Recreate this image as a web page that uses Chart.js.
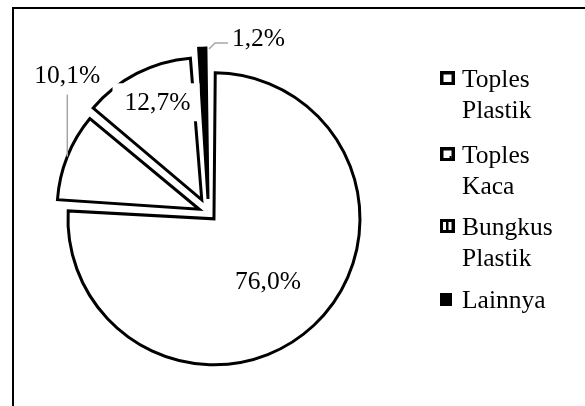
<!DOCTYPE html>
<html>
<head>
<meta charset="utf-8">
<script src="https://cdn.jsdelivr.net/npm/chart.js@4"></script>
<style>
  html, body { margin: 0; padding: 0; background: #fff; }
  #wrap { position: relative; width: 585px; height: 406px; overflow: hidden; }
  canvas { display: block; }
</style>
</head>
<body>
<div id="wrap"><canvas id="c" width="585" height="406"></canvas></div>
<script>
// ---- data ----
const categories = ['Toples Plastik', 'Toples Kaca', 'Bungkus Plastik', 'Lainnya'];
const shares = [76.0, 10.1, 12.7, 1.2];
const legendLines = [['Toples', 'Plastik'], ['Toples', 'Kaca'], ['Bungkus', 'Plastik'], ['Lainnya']];
const valueLabels = shares.map(v => v.toFixed(1).replace('.', ',') + '%');

// ---- style ----
const FONT = '25.5px "Liberation Serif", "Times New Roman", serif';
const fills = ['#ffffff', '#ffffff', '#ffffff', '#000000'];
const explode = [32, 40, 59, 56];

function arcGeom(arc) {
  const p = arc.getProps(['x', 'y', 'startAngle', 'endAngle', 'outerRadius', 'circumference'], true);
  const t = (arc.options.offset || 0) / 4;
  const h = (p.startAngle + p.endAngle) / 2;
  const fix = 1 - Math.sin(Math.min(Math.PI, p.circumference || 0));
  return {
    cx: p.x + Math.cos(h) * t,
    cy: p.y + Math.sin(h) * t,
    r: p.outerRadius + t * fix,
    h: h, start: p.startAngle, end: p.endAngle
  };
}

const framePlugin = {
  id: 'frame',
  beforeDraw(chart) {
    const ctx = chart.ctx;
    ctx.save();
    ctx.fillStyle = '#fff';
    ctx.fillRect(0, 0, chart.width, chart.height);
    ctx.fillStyle = '#000';
    ctx.fillRect(12, 7, chart.width - 12, 2);
    ctx.fillRect(12, 7, 2, chart.height - 7);
    ctx.restore();
  }
};

const labelPlugin = {
  id: 'pieLabels',
  afterDatasetsDraw(chart) {
    const ctx = chart.ctx;
    const arcs = chart.getDatasetMeta(0).data;
    ctx.save();
    ctx.font = FONT;
    ctx.textBaseline = 'alphabetic';
    ctx.fillStyle = '#000';

    // 76,0% inside the large slice
    let g = arcGeom(arcs[0]);
    let x = g.cx + 0.56 * g.r * Math.cos(g.h);
    let y = g.cy + 0.56 * g.r * Math.sin(g.h);
    ctx.textAlign = 'center';
    ctx.fillText(valueLabels[0], x - 2, y + 11);

    // 12,7% inside slice, with white label box
    g = arcGeom(arcs[2]);
    const a2 = g.h + 3 * Math.PI / 180;
    x = g.cx + 0.76 * g.r * Math.cos(a2);
    y = g.cy + 0.76 * g.r * Math.sin(a2);
    ctx.fillStyle = '#fff';
    ctx.fillRect(x - 45, y - 18, 87, 38);
    ctx.fillStyle = '#000';
    ctx.fillText(valueLabels[2], x, y + 8.5);

    // 10,1% outside with vertical leader
    g = arcGeom(arcs[1]);
    const px = g.cx + g.r * Math.cos(g.h);
    const py = g.cy + g.r * Math.sin(g.h);
    ctx.strokeStyle = '#a6a6a6';
    ctx.lineWidth = 1.5;
    ctx.beginPath();
    ctx.moveTo(px, py);
    ctx.lineTo(px, py - 62);
    ctx.stroke();
    ctx.fillText(valueLabels[1], px, py - 74);

    // 1,2% outside with bent leader
    g = arcGeom(arcs[3]);
    const qx = g.cx + g.r * Math.cos(g.end);
    const qy = g.cy + g.r * Math.sin(g.end);
    ctx.beginPath();
    ctx.moveTo(qx + 1, qy + 1);
    ctx.lineTo(qx + 7, qy - 5);
    ctx.lineTo(qx + 20, qy - 5);
    ctx.stroke();
    ctx.textAlign = 'left';
    ctx.fillText(valueLabels[3], qx + 24, qy - 2);
    ctx.restore();
  }
};

const legendPlugin = {
  id: 'sideLegend',
  afterDraw(chart) {
    const ctx = chart.ctx;
    const baselines = [87, 163, 235, 308];
    const lineGap = 31;
    const mx = 440, tx = 462;
    ctx.save();
    ctx.font = FONT;
    ctx.textAlign = 'left';
    ctx.textBaseline = 'alphabetic';
    categories.forEach((name, i) => {
      const b = baselines[i];
      ctx.fillStyle = '#000';
      if (i < 3) {
        ctx.fillRect(mx, b - 16, 15, 14);
        ctx.fillStyle = '#fff';
        if (i === 2) {
          ctx.fillRect(mx + 3, b - 13, 3, 8);
          ctx.fillRect(mx + 8.5, b - 13, 3, 8);
        } else {
          ctx.fillRect(mx + 3.5, b - 12.5, 8, 7.5);
          if (i === 1) {
            ctx.fillStyle = '#000';
            ctx.fillRect(mx + 9.5, b - 7, 2, 2);
          }
        }
      } else {
        ctx.fillRect(mx, b - 15, 12, 13);
      }
      ctx.fillStyle = '#000';
      legendLines[i].forEach((ln, k) => ctx.fillText(ln, tx, b + k * lineGap));
    });
    ctx.restore();
  }
};

new Chart(document.getElementById('c'), {
  type: 'pie',
  data: {
    labels: categories,
    datasets: [{
      data: shares,
      backgroundColor: fills,
      borderColor: '#000',
      borderWidth: 3,
      borderJoinStyle: 'miter',
      offset: explode,
      hoverOffset: 0,
      clip: false
    }]
  },
  options: {
    responsive: false,
    animation: false,
    radius: 138,
    layout: { padding: { left: 0, right: 168, top: 20, bottom: 0 } },
    plugins: {
      legend: { display: false },
      tooltip: { enabled: false }
    },
    events: []
  },
  plugins: [framePlugin, labelPlugin, legendPlugin]
});
</script>
</body>
</html>
